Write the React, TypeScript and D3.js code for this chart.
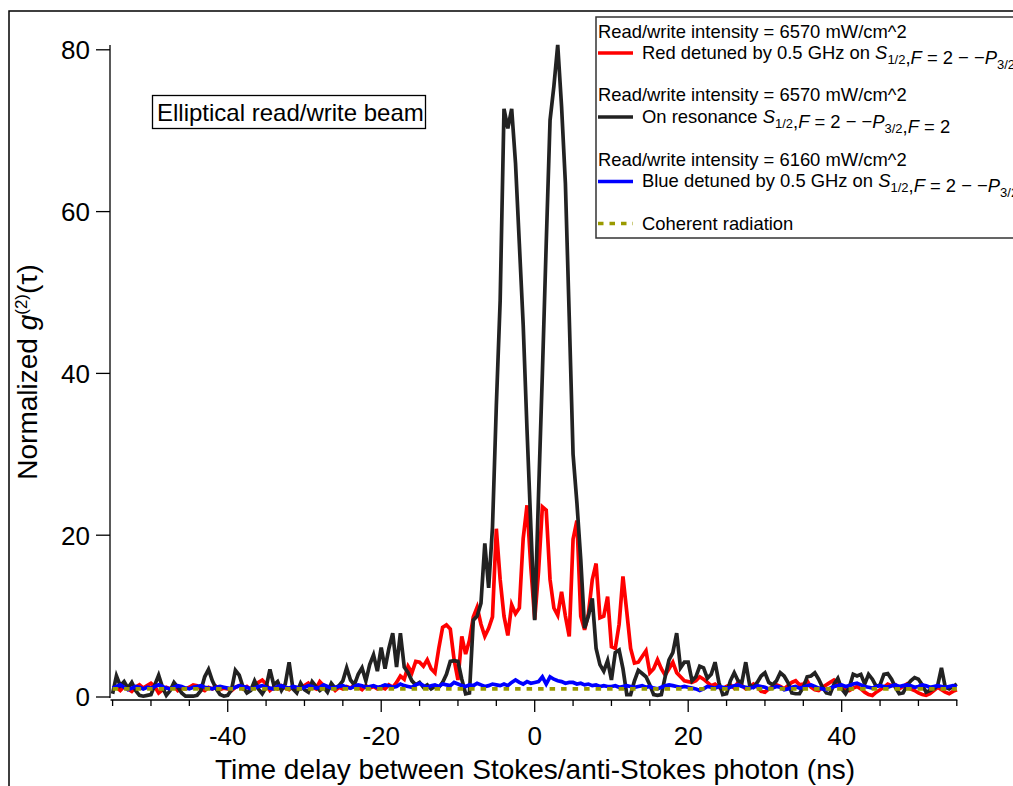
import React from "react";
import * as d3 from "d3";

// time grid of the traces (ns)
const timeStart = -55;
const timeStep = 0.5;

// normalized g2 traces, one value per 0.5 ns bin from -55 to 55 ns
const blackValues = [
  0.4, 2.6, 1.4, 1.9, 1.1, 1.8, 0.8, 0.2, 0.1, 0.2,
  0.3, 1.5, 2.7, 1.2, 0.2, 0.8, 1.8, 1.2, 0.5, 0.1,
  0.1, 0.1, 0.2, 0.8, 2.5, 3.4, 2.0, 1.0, 0.3, 0.1,
  0.2, 0.9, 3.3, 2.7, 1.2, 0.5, 0.8, 2.0, 1.0, 0.4,
  1.2, 3.4, 1.5, 1.9, 0.8, 1.6, 4.3, 1.0, 0.5, 1.7,
  0.9, 0.6, 1.9, 1.3, 0.8, 1.2, 0.6, 1.7, 1.1, 1.4,
  2.0, 3.6, 2.1, 1.5, 2.8, 3.6, 2.0, 4.0, 5.2, 3.2,
  6.1, 3.5, 6.0, 7.9, 3.7, 7.9, 3.7, 3.0, 2.0, 1.5,
  1.8, 1.2, 1.5, 1.0, 1.3, 1.2, 1.8, 2.8, 4.4, 4.5,
  4.4, 2.2, 0.4, 0.5, 9.5, 10.0, 11.6, 19.0, 13.5, 21.0,
  36.0, 49.0, 72.7, 70.3, 72.7, 66.0, 56.0, 46.0, 33.0, 21.0,
  9.5, 25.0, 40.0, 56.0, 71.3, 75.5, 80.6, 73.0, 63.5, 47.0,
  30.0, 24.0, 17.0, 8.5, 10.0, 12.2, 6.0, 4.0, 3.2, 4.5,
  2.1, 5.5, 5.8, 3.5, 0.3, 0.3, 2.0, 3.3, 2.9, 2.5,
  1.5, 0.3, 0.2, 0.3, 2.5, 4.6, 5.5, 7.9, 3.6, 4.3,
  4.3, 2.0, 2.5, 3.8, 3.6, 2.3, 2.8, 4.3, 1.8, 0.3,
  0.4, 2.0, 3.0, 2.0, 1.8, 4.3, 1.5, 1.2, 1.8, 2.6,
  3.0, 1.8, 1.5, 2.0, 3.0, 2.6, 1.8, 0.5, 0.4, 0.4,
  1.2, 2.5, 2.6, 3.0, 2.2, 1.2, 0.5, 0.4, 1.6, 2.3,
  1.0, 0.4, 1.2, 2.8, 2.6, 2.8, 1.6, 2.8, 2.2, 1.3,
  1.5, 2.8, 2.9, 2.2, 1.2, 0.4, 0.5, 1.4, 2.0, 2.4,
  2.2, 1.5, 0.6, 0.8, 1.0, 1.4, 3.6, 1.2, 1.0, 1.3,
  1.6,
];

const redValues = [
  1.0, 1.2, 0.8, 1.3, 1.0, 0.7, 1.2, 1.5, 1.1, 1.4,
  1.7, 1.3, 0.5, 0.9, 1.2, 1.0, 1.3, 0.8, 1.1, 1.0,
  1.2, 1.5, 1.4, 1.0, 0.8, 1.2, 1.0, 1.3, 0.9, 1.1,
  1.0, 0.8, 1.2, 1.4, 1.0, 1.3, 0.9, 1.2, 1.8, 2.1,
  1.6, 0.8, 1.2, 1.0, 1.4, 1.1, 0.9, 1.3, 1.0, 1.2,
  1.4, 1.7, 1.2, 1.0, 1.9, 1.4, 1.1, 1.3, 0.8, 1.2,
  1.0, 1.3, 1.1, 1.5, 1.2, 0.9, 1.4, 1.1, 1.3, 1.0,
  1.2, 1.0, 1.5, 1.2, 1.8, 2.6, 2.2, 3.8, 3.0, 4.4,
  4.3, 3.8, 4.6, 3.5, 3.0, 6.0, 8.6, 8.9, 8.4, 4.6,
  2.1, 7.5, 5.3, 7.0, 9.9, 11.1, 9.0, 7.5, 8.5, 9.9,
  20.8, 14.5, 10.0, 7.6, 11.4, 10.3, 11.0, 19.6, 23.7, 16.0,
  9.6, 15.5, 23.5, 23.1, 14.5, 11.0, 10.1, 13.0, 10.0, 7.5,
  19.5, 21.8, 10.0, 8.3, 10.3, 14.5, 16.5, 9.8, 10.0, 12.4,
  6.2, 6.0, 9.0, 14.9, 10.5, 6.0, 4.2, 4.3, 5.0, 5.7,
  3.0, 3.5, 4.6, 3.5, 2.7, 3.5, 4.3, 3.0, 2.5, 2.0,
  1.9, 1.8, 2.0, 2.5, 2.2, 1.8, 1.4, 1.6, 1.2, 1.0,
  1.3, 1.5, 1.1, 1.8, 1.4, 1.0, 1.2, 1.6, 1.3, 0.7,
  0.6, 1.0, 1.2, 1.5, 1.3, 1.0, 1.4, 1.8, 2.0, 1.5,
  1.6, 2.0, 1.2, 0.9, 0.8, 1.2, 1.5, 1.8, 2.1, 1.7,
  1.2, 0.9, 0.8, 1.1, 1.3, 1.0, 0.6, 0.3, 0.2, 0.6,
  0.9, 1.2, 1.6, 1.4, 1.5, 1.0, 1.3, 1.6, 1.0, 0.8,
  0.5, 0.3, 0.2, 0.4, 0.8, 1.2, 0.9, 0.6, 0.4, 0.7,
  0.9,
];

const blueValues = [
  1.1, 1.3, 1.5, 1.2, 0.9, 1.1, 1.3, 1.2, 1.0, 1.2,
  1.1, 1.3, 1.5, 1.3, 1.1, 1.0, 1.2, 1.4, 1.3, 1.1,
  1.0, 1.2, 1.3, 1.4, 1.2, 1.1, 1.0, 1.2, 1.3, 1.2,
  1.1, 1.0, 1.2, 1.4, 1.3, 1.2, 1.0, 1.1, 1.3, 1.4,
  1.2, 1.1, 1.0, 1.3, 1.4, 1.2, 1.1, 1.3, 1.2, 1.0,
  1.2, 1.4, 1.3, 1.1, 1.2, 1.5, 1.3, 1.1, 1.2, 1.3,
  1.4, 1.2, 1.1, 1.3, 1.5, 1.4, 1.2, 1.3, 1.4, 1.2,
  1.3, 1.5, 1.4, 1.2, 1.3, 1.6, 1.4, 1.3, 1.2, 1.5,
  1.7, 1.4, 1.2, 1.4, 1.5, 1.3, 1.6, 1.5, 1.4, 1.8,
  1.6, 1.4, 1.3, 1.5, 1.4, 1.7, 1.5, 1.3, 1.4, 1.6,
  1.5, 1.4, 1.6, 1.4, 1.8, 2.1, 1.8, 1.6, 1.9, 1.7,
  1.8, 1.9, 2.5, 1.6, 2.5, 2.2, 2.0, 1.9, 1.7, 1.8,
  1.8, 1.6, 1.7, 1.5, 1.6, 1.4, 1.5, 1.3, 1.4, 1.3,
  1.3, 1.4, 1.2, 1.3, 1.4, 1.3, 1.2, 1.3, 1.4, 1.2,
  1.3, 1.1, 1.0, 1.2, 1.4, 1.5, 1.4, 1.3, 1.2, 1.3,
  1.2, 1.1, 1.0, 0.8, 1.0, 1.3, 1.2, 1.1, 1.3, 1.2,
  1.1, 1.2, 1.4, 1.5, 1.3, 1.2, 1.1, 1.2, 1.4, 1.3,
  1.2, 1.0, 1.1, 1.3, 1.2, 0.9, 1.0, 1.2, 1.3, 1.1,
  1.2, 1.4, 1.5, 1.3, 1.1, 1.0, 0.9, 1.1, 1.3, 1.4,
  1.5, 1.3, 1.4, 1.6, 1.7, 1.5, 1.3, 1.2, 1.1, 1.3,
  1.4, 1.3, 1.2, 1.4, 1.5, 1.3, 1.4, 1.5, 1.4, 1.2,
  1.3, 1.5, 1.4, 1.2, 1.3, 1.4, 1.3, 1.2, 1.3, 1.4,
  1.3,
];

// coherent light reference g2 = 1
const coherentTimes = [-55, 55];
const coherentValues = [1, 1];

const yTicks = [0, 20, 40, 60, 80];
const xMajorTicks = [-40, -20, 0, 20, 40];
const xMinorTicks = [-55, -50, -45, -35, -30, -25, -15, -10, -5, 5, 10, 15, 25, 30, 35, 45, 50, 55];

const FONT = "'Liberation Sans', Arial, Helvetica, sans-serif";

const RED = "#ff0000";
const BLACK = "#222222";
const BLUE = "#0000ff";
const OLIVE = "#9a9a00";

function Sub({ s }: { s: string }) {
  return (
    <>
      <tspan dy={5} fontSize={13}>{s}</tspan>
      <tspan dy={-5}></tspan>
    </>
  );
}

function LevelText({ lead, tail }: { lead: string; tail: string }) {
  return (
    <>
      <tspan>{lead}</tspan>
      <tspan fontStyle="italic">S</tspan>
      <Sub s="1/2" />
      <tspan>,</tspan>
      <tspan fontStyle="italic">F</tspan>
      <tspan>{" = 2 \u2212 \u2212"}</tspan>
      <tspan fontStyle="italic">P</tspan>
      <Sub s="3/2" />
      <tspan>,</tspan>
      <tspan fontStyle="italic">F</tspan>
      <tspan>{tail}</tspan>
    </>
  );
}

export default function App() {
  const width = 1013;
  const height = 786;

  const x = d3.scaleLinear().domain([-55, 55]).range([112.6, 956.8]);
  const y = d3.scaleLinear().domain([0, 80]).range([697, 49.8]);

  const times = blackValues.map((_, i) => timeStart + i * timeStep);

  const line = d3
    .line<[number, number]>()
    .x((d) => x(d[0]))
    .y((d) => y(d[1]));

  const pairs = (vals: number[], ts: number[]) => vals.map((v, i) => [ts[i], v] as [number, number]);

  const traces = [
    { vals: redValues, color: RED },
    { vals: blackValues, color: BLACK },
    { vals: blueValues, color: BLUE },
  ];

  const legendX0 = 598;
  const legendX1 = 633;
  const textX = 642;

  return (
    <svg
      width={width}
      height={height}
      style={{ position: "absolute", left: 0, top: 0, display: "block", background: "#fff" }}
      fontFamily={FONT}
    >
      {/* outer frame */}
      <rect x={9} y={11} width={1020} height={800} fill="none" stroke="#000" strokeWidth={1.5} />

      {/* traces */}
      <g fill="none" strokeLinejoin="miter" strokeWidth={3.7}>
        {traces.map((t, i) => (
          <path key={i} d={line(pairs(t.vals, times)) || ""} stroke={t.color} />
        ))}
        <path
          d={line(pairs(coherentValues, coherentTimes)) || ""}
          stroke={OLIVE}
          strokeDasharray="5.5,6"
        />
      </g>

      {/* y axis */}
      <g stroke="#000" strokeWidth={1.3}>
        <line x1={110} x2={110} y1={y(80.6)} y2={698} />
        {yTicks.map((t) => (
          <line key={t} x1={96} x2={110} y1={y(t)} y2={y(t)} />
        ))}
      </g>
      <g fontSize={26} textAnchor="end" fill="#000">
        {yTicks.map((t) => (
          <text key={t} x={90} y={y(t)} dy="0.36em">
            {t}
          </text>
        ))}
      </g>

      {/* x axis */}
      <g stroke="#000" strokeWidth={1.3}>
        <line x1={110.5} x2={x(55) + 0.5} y1={700} y2={700} />
        {xMajorTicks.map((t) => (
          <line key={t} x1={x(t)} x2={x(t)} y1={700} y2={712} />
        ))}
        {xMinorTicks.map((t) => (
          <line key={t} x1={x(t)} x2={x(t)} y1={700} y2={706} />
        ))}
      </g>
      <g fontSize={26} textAnchor="middle" fill="#000">
        {xMajorTicks.map((t) => (
          <text key={t} x={x(t)} y={745}>
            {String(t)}
          </text>
        ))}
      </g>

      {/* axis titles */}
      <text x={535} y={779} fontSize={28} textAnchor="middle" fill="#000">
        Time delay between Stokes/anti-Stokes photon (ns)
      </text>
      <text
        transform={`translate(37, 372) rotate(-90)`}
        fontSize={28}
        textAnchor="middle"
        fill="#000"
      >
        <tspan>Normalized </tspan>
        <tspan fontStyle="italic">g</tspan>
        <tspan dy={-10} fontSize={17}>(2)</tspan>
        <tspan dy={10}>(τ)</tspan>
      </text>

      {/* annotation */}
      <rect x={152.5} y={95.5} width={273} height={33} fill="#fff" stroke="#000" strokeWidth={1.3} />
      <text x={157} y={121} fontSize={24} fill="#000">
        Elliptical read/write beam
      </text>

      {/* legend */}
      <rect x={596} y={17} width={440} height={221} fill="#fff" stroke="#333" strokeWidth={1.5} />
      <g fontSize={18.4} fill="#000">
        <text x={598} y={38}>Read/write intensity = 6570 mW/cm^2</text>
        <line x1={legendX0} x2={legendX1} y1={53} y2={53} stroke={RED} strokeWidth={3.7} />
        <text x={textX} y={59}>
          <LevelText lead="Red detuned by 0.5 GHz on " tail=" = 2" />
        </text>

        <text x={598} y={101}>Read/write intensity = 6570 mW/cm^2</text>
        <line x1={legendX0} x2={legendX1} y1={117} y2={117} stroke={BLACK} strokeWidth={3.7} />
        <text x={textX} y={123}>
          <LevelText lead="On resonance " tail=" = 2" />
        </text>

        <text x={598} y={166}>Read/write intensity = 6160 mW/cm^2</text>
        <line x1={legendX0} x2={legendX1} y1={181.5} y2={181.5} stroke={BLUE} strokeWidth={3.7} />
        <text x={textX} y={187}>
          <LevelText lead="Blue detuned by 0.5 GHz on " tail=" = 2" />
        </text>

        <line
          x1={legendX0}
          x2={legendX1}
          y1={223.5}
          y2={223.5}
          stroke={OLIVE}
          strokeWidth={3.7}
          strokeDasharray="5.5,6"
        />
        <text x={textX} y={230}>Coherent radiation</text>
      </g>
    </svg>
  );
}
